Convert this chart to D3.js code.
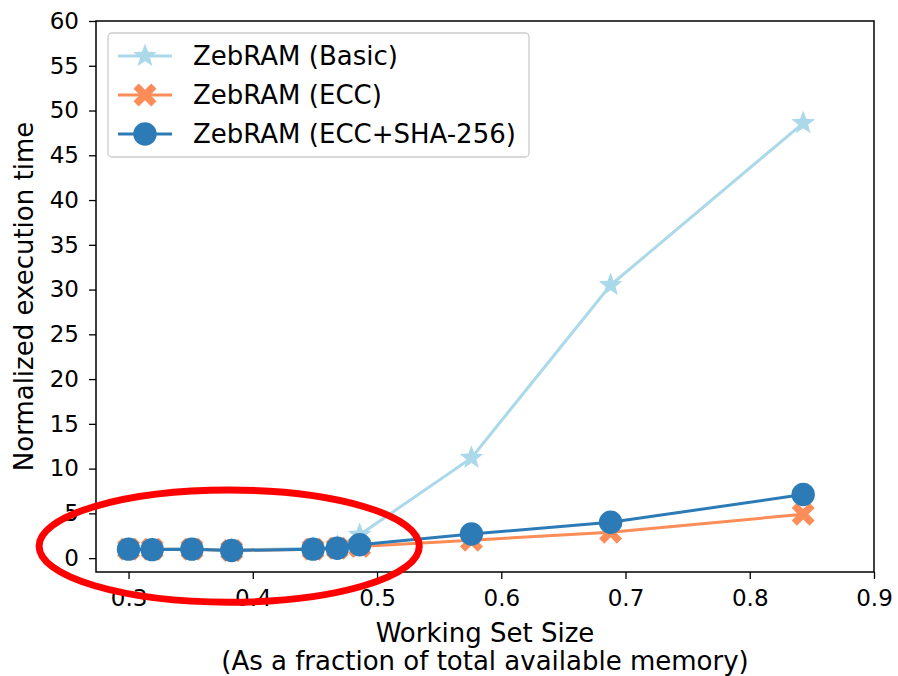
<!DOCTYPE html>
<html>
<head>
<meta charset="utf-8">
<script src="https://cdn.jsdelivr.net/npm/d3@7"></script>
<style>
  html, body { margin: 0; padding: 0; background: #fff; }
  svg { display: block; font-family: "DejaVu Sans", sans-serif; }
</style>
</head>
<body>
<svg id="chart" width="898" height="676"></svg>
<script>
// Working set size (fraction of total available memory)
const workingSet = [0.300, 0.319, 0.351, 0.383, 0.4485, 0.468, 0.486, 0.576, 0.688, 0.843];
// Normalized execution time per configuration
const basicValues = [1.0, 1.0, 1.0, 0.9, 1.1, 1.3, 2.6, 11.2, 30.5, 48.6];
const eccValues   = [1.0, 1.0, 1.0, 0.85, 1.0, 1.1, 1.3, 2.0, 2.9, 4.9];
const shaValues   = [1.0, 0.95, 1.0, 0.85, 1.0, 1.1, 1.5, 2.7, 4.0, 7.1];
const seriesNames = ["ZebRAM (Basic)", "ZebRAM (ECC)", "ZebRAM (ECC+SHA-256)"];
const xTicks = [0.3, 0.4, 0.5, 0.6, 0.7, 0.8, 0.9];
const yTicks = [0, 5, 10, 15, 20, 25, 30, 35, 40, 45, 50, 55, 60];
// Highlight ellipse around the small working-set region (data units)
const highlight = { cx: 0.381, cy: 1.34, rx: 0.153, ry: 6.26 };

const svg = d3.select("#chart");
const W = 898, H = 676;
const margin = { left: 96, right: 24, top: 21, bottom: 104 };

const x = d3.scaleLinear().domain([0.2738, 0.9]).range([margin.left, W - margin.right]);
const y = d3.scaleLinear().domain([-1.55, 60]).range([H - margin.bottom, margin.top]);

const colors = ["#abd9e9", "#fc8d59", "#2c7bb6"];
const series = [basicValues, eccValues, shaValues];

const tickFs = 23, labelFs = 26;

// Axes
const xAxis = svg.append("g")
  .attr("transform", `translate(0,${H - margin.bottom})`)
  .call(d3.axisBottom(x).tickValues(xTicks).tickFormat(d3.format(".1f")).tickSizeOuter(0).tickSize(7).tickPadding(11));
const yAxis = svg.append("g")
  .attr("transform", `translate(${margin.left},0)`)
  .call(d3.axisLeft(y).tickValues(yTicks).tickFormat(d3.format("d")).tickSizeOuter(0).tickSize(7).tickPadding(10));
[xAxis, yAxis].forEach(g => {
  g.selectAll("text").attr("font-size", tickFs).attr("fill", "#000").attr("font-family", "DejaVu Sans");
  g.selectAll("line").attr("stroke", "#000").attr("stroke-width", 1.3);
  g.select(".domain").remove();
});

// Frame
svg.append("rect")
  .attr("x", margin.left).attr("y", margin.top)
  .attr("width", W - margin.left - margin.right)
  .attr("height", H - margin.top - margin.bottom)
  .attr("fill", "none").attr("stroke", "#000").attr("stroke-width", 1.5);

// Axis labels
const midX = (margin.left + W - margin.right) / 2;
svg.append("text").attr("x", midX).attr("y", 642)
  .attr("text-anchor", "middle").attr("font-size", labelFs).text("Working Set Size");
svg.append("text").attr("x", midX).attr("y", 670)
  .attr("text-anchor", "middle").attr("font-size", labelFs).text("(As a fraction of total available memory)");
svg.append("text")
  .attr("transform", `translate(33,${(margin.top + H - margin.bottom) / 2}) rotate(-90)`)
  .attr("text-anchor", "middle").attr("font-size", labelFs).text("Normalized execution time");

// Marker shapes
const starPath = (() => {
  const R = 12.5, r = R * 0.42, p = d3.path();
  for (let k = 0; k < 10; k++) {
    const a = -Math.PI / 2 + k * Math.PI / 5, rad = k % 2 ? r : R;
    k ? p.lineTo(rad * Math.cos(a), rad * Math.sin(a)) : p.moveTo(rad * Math.cos(a), rad * Math.sin(a));
  }
  p.closePath();
  return p.toString();
})();
const crossPath = (() => {
  const a = 11.5, b = 5.2; // filled X marker
  const pts = [[-a + b, -a], [0, -b], [a - b, -a], [a, -a + b], [b, 0], [a, a - b], [a - b, a], [0, b], [-a + b, a], [-a, a - b], [-b, 0], [-a, -a + b]];
  const p = d3.path();
  p.moveTo(...pts[0]); pts.slice(1).forEach(q => p.lineTo(...q)); p.closePath();
  return p.toString();
})();
const markers = [
  g => g.append("path").attr("d", starPath),
  g => g.append("path").attr("d", crossPath),
  g => g.append("circle").attr("r", 11.7)
];

const line = d3.line().x(d => x(d[0])).y(d => y(d[1]));
const plot = svg.append("g");
series.forEach((vals, i) => {
  const pts = workingSet.map((w, j) => [w, vals[j]]);
  const g = plot.append("g");
  g.append("path").attr("d", line(pts)).attr("fill", "none")
    .attr("stroke", colors[i]).attr("stroke-width", 3);
  pts.forEach(p => {
    const m = g.append("g").attr("transform", `translate(${x(p[0])},${y(p[1])})`);
    markers[i](m).attr("fill", colors[i]);
  });
});

// Highlight ellipse
svg.append("ellipse")
  .attr("cx", x(highlight.cx)).attr("cy", y(highlight.cy))
  .attr("rx", x(highlight.cx + highlight.rx) - x(highlight.cx))
  .attr("ry", y(0) - y(highlight.ry))
  .attr("fill", "none").attr("stroke", "#ff0000").attr("stroke-width", 7);

// Legend
const lg = svg.append("g").attr("transform", "translate(108,33)");
lg.append("rect").attr("width", 421).attr("height", 124).attr("rx", 4)
  .attr("fill", "#fff").attr("fill-opacity", 0.8).attr("stroke", "#cccccc").attr("stroke-width", 1.3);
seriesNames.forEach((name, i) => {
  const row = lg.append("g").attr("transform", `translate(0,${23 + i * 39})`);
  row.append("line").attr("x1", 10).attr("x2", 64).attr("stroke", colors[i]).attr("stroke-width", 3);
  markers[i](row.append("g").attr("transform", "translate(37,0)")).attr("fill", colors[i]);
  row.append("text").attr("x", 85).attr("y", 9).attr("font-size", labelFs).text(name);
});
</script>
</body>
</html>
